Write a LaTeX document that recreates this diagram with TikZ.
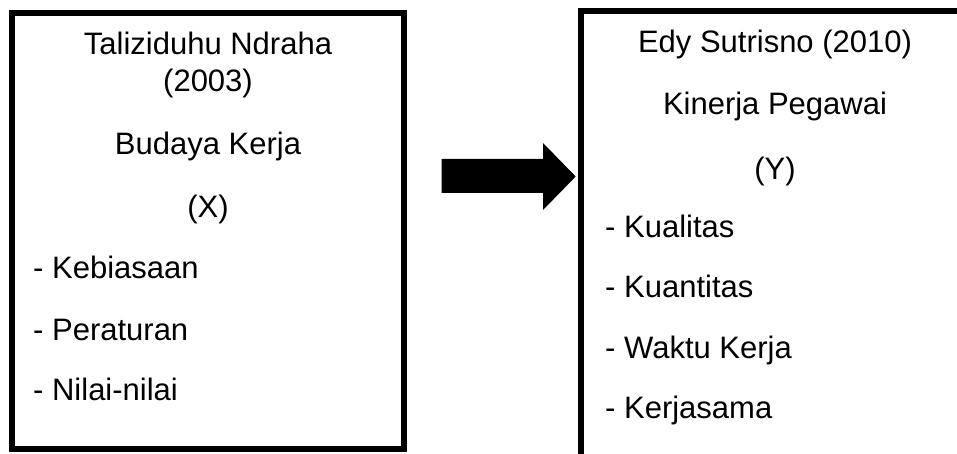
\documentclass[tikz,border=0pt]{standalone}
\usepackage{fontspec}
\setmainfont{Liberation Sans}
\begin{document}
\begin{tikzpicture}[x=1pt,y=-1pt,
  box/.style={draw=black, line width=6pt, inner sep=0pt},
  txt/.style={inner sep=0pt, anchor=base, font=\fontsize{31}{37}\selectfont},
  item/.style={txt, anchor=base west}]
\useasboundingbox (0,0) rectangle (957,454);
\clip (0,0) rectangle (957,454);
% boxes
\node[box, minimum width=392pt, minimum height=436pt] (L) at (208,231) {};
\node[box, minimum width=388pt, minimum height=470pt] (R) at (775,246.5) {};
% left texts
\node[txt] (l1) at (208,55) {Taliziduhu Ndraha};
\node[txt] (l2) at (208,92) {(2003)};
\node[txt] (l3) at (208,155) {Budaya Kerja};
\node[txt] (l4) at (208,218) {(X)};
\node[item] (l5) at (33,278) {- Kebiasaan};
\node[item] (l6) at (33,340) {- Peraturan};
\node[item] (l7) at (33,400) {- Nilai-nilai};
% right texts
\node[txt] (r1) at (775,53) {Edy Sutrisno (2010)};
\node[txt] (r2) at (775,115) {Kinerja Pegawai};
\node[txt] (r3) at (775,180) {(Y)};
\node[item] (r4) at (605,237) {- Kualitas};
\node[item] (r5) at (605,297) {- Kuantitas};
\node[item] (r6) at (605,358) {- Waktu Kerja};
\node[item] (r7) at (605,418) {- Kerjasama};
% block arrow
\fill[black] (441.7,159) -- (543,159) -- (543,143) -- (575.7,176.5) -- (543,210) -- (543,193) -- (441.7,193) -- cycle;
\end{tikzpicture}
\end{document}
